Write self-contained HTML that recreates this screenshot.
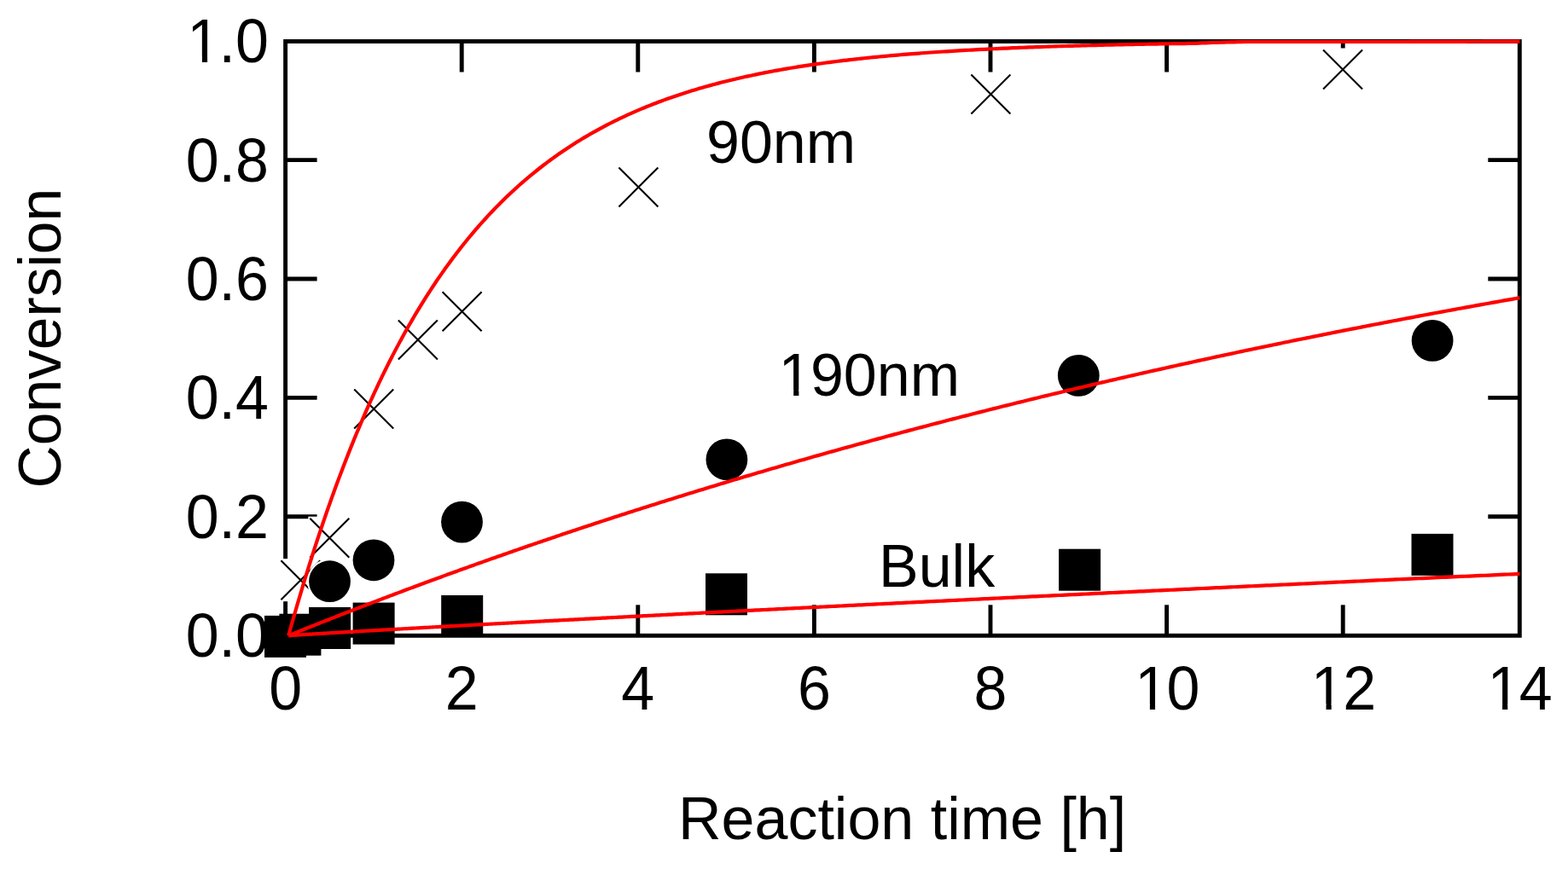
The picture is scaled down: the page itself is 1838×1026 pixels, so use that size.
<!DOCTYPE html>
<html><head><meta charset="utf-8"><title>Conversion vs reaction time</title>
<style>
html,body{margin:0;padding:0;background:#fff;}
body{width:1838px;height:1026px;overflow:hidden;}
svg{display:block;}
</style></head><body>
<svg width="1838" height="1026" viewBox="0 0 1838 1026">
<rect width="1838" height="1026" fill="#fff"/>
<rect x="334.60" y="48.50" width="1446.70" height="696.80" fill="none" stroke="#000" stroke-width="4.9"/>
<g stroke="#000" stroke-width="4.9" fill="none">
<line x1="541.20" y1="745.30" x2="541.20" y2="709.30"/>
<line x1="541.20" y1="48.50" x2="541.20" y2="84.50"/>
<line x1="747.80" y1="745.30" x2="747.80" y2="709.30"/>
<line x1="747.80" y1="48.50" x2="747.80" y2="84.50"/>
<line x1="954.40" y1="745.30" x2="954.40" y2="709.30"/>
<line x1="954.40" y1="48.50" x2="954.40" y2="84.50"/>
<line x1="1161.00" y1="745.30" x2="1161.00" y2="709.30"/>
<line x1="1161.00" y1="48.50" x2="1161.00" y2="84.50"/>
<line x1="1367.60" y1="745.30" x2="1367.60" y2="709.30"/>
<line x1="1367.60" y1="48.50" x2="1367.60" y2="84.50"/>
<line x1="1574.20" y1="745.30" x2="1574.20" y2="709.30"/>
<line x1="1574.20" y1="48.50" x2="1574.20" y2="84.50"/>
<line x1="334.60" y1="605.80" x2="371.60" y2="605.80"/>
<line x1="1781.30" y1="605.80" x2="1744.30" y2="605.80"/>
<line x1="334.60" y1="466.40" x2="371.60" y2="466.40"/>
<line x1="1781.30" y1="466.40" x2="1744.30" y2="466.40"/>
<line x1="334.60" y1="327.00" x2="371.60" y2="327.00"/>
<line x1="1781.30" y1="327.00" x2="1744.30" y2="327.00"/>
<line x1="334.60" y1="187.60" x2="371.60" y2="187.60"/>
<line x1="1781.30" y1="187.60" x2="1744.30" y2="187.60"/>
</g>
<g fill="#fff">
<rect x="327.40" y="655.20" width="50.00" height="50.00"/>
<rect x="361.30" y="605.70" width="50.00" height="50.00"/>
<rect x="413.20" y="454.50" width="50.00" height="50.00"/>
<rect x="464.90" y="373.40" width="50.00" height="50.00"/>
<rect x="516.60" y="340.30" width="50.00" height="50.00"/>
<rect x="723.40" y="194.40" width="50.00" height="50.00"/>
<rect x="1136.40" y="85.60" width="50.00" height="50.00"/>
<rect x="1549.00" y="56.50" width="50.00" height="50.00"/>
</g>
<g stroke="#000" stroke-width="2.1" fill="none">
<path d="M329.40 657.20L375.40 703.20M329.40 703.20L375.40 657.20"/>
<path d="M363.30 607.70L409.30 653.70M363.30 653.70L409.30 607.70"/>
<path d="M415.20 456.50L461.20 502.50M415.20 502.50L461.20 456.50"/>
<path d="M466.90 375.40L512.90 421.40M466.90 421.40L512.90 375.40"/>
<path d="M518.60 342.30L564.60 388.30M518.60 388.30L564.60 342.30"/>
<path d="M725.40 196.40L771.40 242.40M725.40 242.40L771.40 196.40"/>
<path d="M1138.40 87.60L1184.40 133.60M1138.40 133.60L1184.40 87.60"/>
<path d="M1551.00 58.50L1597.00 104.50M1551.00 104.50L1597.00 58.50"/>
</g>
<g fill="#000" stroke="#fff" stroke-width="4" paint-order="stroke">
<circle cx="386.50" cy="681.70" r="24.40"/>
<circle cx="438.00" cy="656.80" r="24.40"/>
<circle cx="541.50" cy="612.10" r="24.40"/>
<circle cx="851.90" cy="538.80" r="24.40"/>
<circle cx="1264.30" cy="440.40" r="24.40"/>
<circle cx="1679.10" cy="399.40" r="24.40"/>
</g>
<g fill="#000">
<rect x="310.00" y="721.90" width="49.00" height="49.00"/>
<rect x="327.40" y="719.70" width="49.00" height="49.00"/>
<rect x="362.10" y="712.00" width="49.00" height="49.00"/>
<rect x="413.60" y="706.60" width="49.00" height="49.00"/>
<rect x="517.20" y="698.00" width="49.00" height="49.00"/>
<rect x="827.00" y="672.30" width="49.00" height="49.00"/>
<rect x="1241.10" y="643.70" width="49.00" height="49.00"/>
<rect x="1654.50" y="625.90" width="49.00" height="49.00"/>
</g>
<g stroke="#ff0000" stroke-width="4.2" fill="none" stroke-linejoin="round">
<path d="M338.13,745.30 L338.20,745.06 L338.34,744.56 L338.53,743.88 L338.77,743.05 L339.04,742.08 L339.35,740.98 L339.69,739.77 L340.06,738.45 L340.46,737.04 L340.89,735.52 L341.35,733.91 L341.83,732.22 L342.33,730.44 L342.86,728.58 L343.41,726.65 L343.99,724.64 L344.58,722.56 L345.20,720.41 L345.84,718.19 L346.50,715.91 L347.18,713.57 L347.88,711.16 L348.60,708.70 L349.33,706.18 L350.09,703.61 L350.86,700.98 L351.66,698.31 L352.47,695.58 L353.29,692.81 L354.14,689.98 L355.00,687.12 L355.88,684.21 L356.78,681.25 L357.69,678.26 L358.62,675.23 L359.56,672.16 L360.52,669.05 L361.50,665.91 L362.49,662.73 L363.50,659.52 L364.52,656.27 L365.56,653.00 L366.61,649.70 L367.68,646.36 L368.76,643.00 L369.86,639.62 L370.97,636.21 L372.09,632.77 L373.23,629.31 L374.38,625.83 L375.55,622.33 L376.73,618.80 L377.93,615.26 L379.13,611.70 L380.36,608.12 L381.59,604.52 L382.84,600.91 L384.10,597.29 L385.38,593.64 L386.66,589.99 L387.96,586.33 L389.28,582.65 L390.60,578.96 L391.94,575.26 L393.29,571.55 L394.66,567.84 L396.03,564.11 L397.42,560.38 L398.83,556.65 L400.24,552.90 L401.66,549.16 L403.10,545.41 L404.55,541.65 L406.01,537.90 L407.49,534.14 L408.97,530.38 L410.47,526.62 L411.98,522.85 L413.50,519.09 L415.03,515.33 L416.58,511.58 L418.13,507.82 L419.70,504.07 L421.28,500.32 L422.87,496.57 L424.47,492.83 L426.08,489.10 L427.70,485.36 L429.34,481.64 L430.98,477.92 L432.64,474.21 L434.30,470.51 L435.98,466.81 L437.67,463.12 L439.37,459.45 L441.08,455.78 L442.80,452.12 L444.53,448.47 L446.28,444.83 L448.03,441.20 L449.79,437.59 L451.57,433.98 L453.35,430.39 L455.15,426.81 L456.95,423.24 L458.77,419.69 L460.59,416.15 L462.43,412.62 L464.28,409.11 L466.13,405.61 L468.00,402.13 L469.88,398.66 L471.77,395.21 L473.66,391.77 L475.57,388.35 L477.49,384.95 L479.41,381.56 L481.35,378.19 L483.30,374.83 L485.25,371.50 L487.22,368.18 L489.20,364.87 L491.18,361.59 L493.18,358.32 L495.18,355.07 L497.20,351.84 L499.22,348.63 L501.26,345.44 L503.30,342.27 L505.36,339.11 L507.42,335.98 L509.49,332.86 L511.57,329.77 L513.66,326.69 L515.77,323.64 L517.88,320.60 L519.99,317.58 L522.12,314.59 L524.26,311.61 L526.41,308.66 L528.56,305.72 L530.73,302.81 L532.91,299.91 L535.09,297.04 L537.28,294.19 L539.48,291.36 L541.70,288.55 L543.92,285.76 L546.14,282.99 L548.38,280.24 L550.63,277.52 L552.89,274.81 L555.15,272.13 L557.43,269.47 L559.71,266.83 L562.00,264.21 L564.30,261.61 L566.61,259.04 L568.93,256.48 L571.25,253.95 L573.59,251.44 L575.93,248.94 L578.29,246.48 L580.65,244.03 L583.02,241.60 L585.40,239.19 L587.79,236.81 L590.18,234.45 L592.59,232.10 L595.00,229.78 L597.42,227.48 L599.85,225.21 L602.29,222.95 L604.74,220.71 L607.19,218.50 L609.66,216.30 L612.13,214.13 L614.61,211.98 L617.10,209.84 L619.60,207.73 L622.11,205.64 L624.62,203.57 L627.14,201.52 L629.67,199.49 L632.21,197.48 L634.76,195.49 L637.32,193.52 L639.88,191.57 L642.45,189.65 L645.03,187.74 L647.62,185.85 L650.22,183.98 L652.82,182.13 L655.44,180.30 L658.06,178.49 L660.69,176.69 L663.32,174.92 L665.97,173.17 L668.62,171.43 L671.28,169.72 L673.95,168.02 L676.63,166.34 L679.31,164.68 L682.01,163.04 L684.71,161.42 L687.42,159.82 L690.13,158.23 L692.86,156.66 L695.59,155.11 L698.33,153.58 L701.08,152.06 L703.84,150.57 L706.60,149.09 L709.37,147.62 L712.15,146.18 L714.94,144.75 L717.73,143.34 L720.54,141.94 L723.35,140.56 L726.17,139.20 L728.99,137.86 L731.83,136.53 L734.67,135.21 L737.52,133.92 L740.37,132.64 L743.24,131.37 L746.11,130.12 L748.99,128.89 L751.87,127.67 L754.77,126.47 L757.67,125.28 L760.58,124.10 L763.50,122.95 L766.42,121.80 L769.36,120.67 L772.29,119.56 L775.24,118.46 L778.20,117.37 L781.16,116.30 L784.13,115.24 L787.11,114.20 L790.09,113.17 L793.08,112.15 L796.08,111.15 L799.09,110.16 L802.10,109.18 L805.12,108.22 L808.15,107.27 L811.19,106.33 L814.23,105.40 L817.28,104.49 L820.34,103.59 L823.41,102.70 L826.48,101.83 L829.56,100.96 L832.65,100.11 L835.74,99.27 L838.84,98.44 L841.95,97.63 L845.07,96.82 L848.19,96.03 L851.32,95.24 L854.46,94.47 L857.60,93.71 L860.75,92.96 L863.91,92.22 L867.08,91.49 L870.25,90.77 L873.43,90.07 L876.62,89.37 L879.81,88.68 L883.02,88.00 L886.22,87.34 L889.44,86.68 L892.66,86.03 L895.89,85.39 L899.13,84.76 L902.37,84.14 L905.63,83.53 L908.88,82.93 L912.15,82.34 L915.42,81.75 L918.70,81.18 L921.98,80.61 L925.28,80.05 L928.58,79.50 L931.88,78.96 L935.20,78.43 L938.52,77.91 L941.85,77.39 L945.18,76.88 L948.52,76.38 L951.87,75.89 L955.22,75.40 L958.59,74.93 L961.95,74.46 L965.33,73.99 L968.71,73.54 L972.10,73.09 L975.50,72.65 L978.90,72.21 L982.31,71.79 L985.73,71.36 L989.15,70.95 L992.58,70.54 L996.01,70.14 L999.46,69.75 L1002.91,69.36 L1006.36,68.98 L1009.83,68.60 L1013.30,68.23 L1016.78,67.87 L1020.26,67.51 L1023.75,67.16 L1027.25,66.82 L1030.75,66.48 L1034.26,66.14 L1037.78,65.81 L1041.30,65.49 L1044.83,65.17 L1048.37,64.86 L1051.91,64.55 L1055.46,64.25 L1059.02,63.95 L1062.58,63.66 L1066.15,63.37 L1069.73,63.09 L1073.31,62.81 L1076.90,62.54 L1080.50,62.27 L1084.10,62.00 L1087.71,61.75 L1091.32,61.49 L1094.95,61.24 L1098.57,60.99 L1102.21,60.75 L1105.85,60.51 L1109.50,60.28 L1113.15,60.05 L1116.82,59.82 L1120.48,59.60 L1124.16,59.39 L1127.84,59.17 L1131.52,58.96 L1135.22,58.75 L1138.92,58.55 L1142.62,58.35 L1146.34,58.16 L1150.06,57.96 L1153.78,57.78 L1157.51,57.59 L1161.25,57.41 L1165.00,57.23 L1168.75,57.05 L1172.50,56.88 L1176.27,56.71 L1180.04,56.55 L1183.81,56.38 L1187.60,56.22 L1191.39,56.06 L1195.18,55.91 L1198.98,55.76 L1202.79,55.61 L1206.61,55.46 L1210.43,55.32 L1214.25,55.18 L1218.09,55.04 L1221.93,54.90 L1225.77,54.77 L1229.62,54.64 L1233.48,54.51 L1237.35,54.39 L1241.22,54.26 L1245.09,54.14 L1248.98,54.02 L1252.87,53.91 L1256.76,53.79 L1260.66,53.68 L1264.57,53.57 L1268.49,53.46 L1272.41,53.35 L1276.33,53.25 L1280.27,53.15 L1284.20,53.05 L1288.15,52.95 L1292.10,52.85 L1296.06,52.76 L1300.02,52.67 L1303.99,52.58 L1307.97,52.49 L1311.95,52.40 L1315.94,52.31 L1319.93,52.23 L1323.93,52.15 L1327.94,52.07 L1331.95,51.99 L1335.97,51.91 L1339.99,51.83 L1344.02,51.76 L1348.06,51.68 L1352.10,51.61 L1356.15,51.54 L1360.21,51.47 L1364.27,51.41 L1368.33,51.34 L1372.41,51.27 L1376.49,51.21 L1380.57,51.15 L1384.66,51.09 L1388.76,51.03 L1392.86,50.97 L1396.97,50.91 L1401.09,50.82 L1405.21,50.64 L1409.33,50.47 L1413.47,50.31 L1417.61,50.16 L1421.75,50.01 L1425.90,49.88 L1430.06,49.74 L1434.22,49.62 L1438.39,49.50 L1442.57,49.39 L1446.75,49.29 L1450.93,49.19 L1455.12,49.10 L1459.32,49.01 L1463.53,49.00 L1467.74,49.00 L1471.95,49.00 L1476.17,49.00 L1480.40,49.00 L1484.64,49.00 L1488.88,49.00 L1493.12,49.00 L1497.37,49.00 L1501.63,49.00 L1505.89,49.00 L1510.16,49.00 L1514.43,49.00 L1518.72,49.00 L1523.00,49.00 L1527.29,49.00 L1531.59,49.00 L1535.89,49.00 L1540.20,49.00 L1544.52,49.00 L1548.84,49.00 L1553.17,49.00 L1557.50,49.00 L1561.84,49.00 L1566.18,49.00 L1570.53,49.00 L1574.89,49.00 L1579.25,49.00 L1583.62,49.00 L1587.99,49.00 L1592.37,49.00 L1596.75,49.00 L1601.14,49.00 L1605.54,49.00 L1609.94,49.00 L1614.35,49.00 L1618.76,49.00 L1623.18,49.00 L1627.61,49.00 L1632.04,49.00 L1636.47,49.00 L1640.91,49.00 L1645.36,49.00 L1649.81,48.98 L1654.27,48.97 L1658.74,48.95 L1663.21,48.94 L1667.68,48.92 L1672.16,48.91 L1676.65,48.89 L1681.14,48.88 L1685.64,48.86 L1690.15,48.85 L1694.65,48.84 L1699.17,48.83 L1703.69,48.81 L1708.22,48.80 L1712.75,48.79 L1717.29,48.78 L1721.83,48.77 L1726.38,48.75 L1730.93,48.74 L1735.49,48.73 L1740.06,48.72 L1744.63,48.71 L1749.21,48.70 L1753.79,48.69 L1758.38,48.68 L1762.97,48.67 L1767.57,48.67 L1772.17,48.66 L1776.78,48.65 L1781.40,48.64"/>
<path d="M338.13,745.30 L338.20,745.27 L338.34,745.22 L338.53,745.14 L338.77,745.04 L339.04,744.93 L339.35,744.81 L339.69,744.67 L340.06,744.52 L340.46,744.36 L340.89,744.19 L341.35,744.00 L341.83,743.81 L342.33,743.61 L342.86,743.39 L343.41,743.17 L343.99,742.94 L344.58,742.70 L345.20,742.45 L345.84,742.19 L346.50,741.93 L347.18,741.65 L347.88,741.37 L348.60,741.08 L349.33,740.79 L350.09,740.48 L350.86,740.17 L351.66,739.85 L352.47,739.53 L353.29,739.20 L354.14,738.86 L355.00,738.51 L355.88,738.16 L356.78,737.80 L357.69,737.43 L358.62,737.06 L359.56,736.69 L360.52,736.30 L361.50,735.91 L362.49,735.52 L363.50,735.11 L364.52,734.71 L365.56,734.29 L366.61,733.87 L367.68,733.45 L368.76,733.02 L369.86,732.58 L370.97,732.14 L372.09,731.69 L373.23,731.24 L374.38,730.79 L375.55,730.32 L376.73,729.85 L377.93,729.38 L379.13,728.90 L380.36,728.42 L381.59,727.93 L382.84,727.44 L384.10,726.94 L385.38,726.44 L386.66,725.93 L387.96,725.42 L389.28,724.90 L390.60,724.38 L391.94,723.86 L393.29,723.33 L394.66,722.79 L396.03,722.25 L397.42,721.71 L398.83,721.16 L400.24,720.61 L401.66,720.05 L403.10,719.49 L404.55,718.93 L406.01,718.36 L407.49,717.78 L408.97,717.20 L410.47,716.62 L411.98,716.04 L413.50,715.45 L415.03,714.85 L416.58,714.26 L418.13,713.65 L419.70,713.05 L421.28,712.44 L422.87,711.83 L424.47,711.21 L426.08,710.59 L427.70,709.96 L429.34,709.33 L430.98,708.70 L432.64,708.07 L434.30,707.43 L435.98,706.79 L437.67,706.14 L439.37,705.49 L441.08,704.84 L442.80,704.18 L444.53,703.52 L446.28,702.86 L448.03,702.19 L449.79,701.52 L451.57,700.85 L453.35,700.17 L455.15,699.49 L456.95,698.81 L458.77,698.12 L460.59,697.43 L462.43,696.74 L464.28,696.04 L466.13,695.34 L468.00,694.64 L469.88,693.94 L471.77,693.23 L473.66,692.52 L475.57,691.80 L477.49,691.09 L479.41,690.37 L481.35,689.64 L483.30,688.92 L485.25,688.19 L487.22,687.46 L489.20,686.72 L491.18,685.99 L493.18,685.25 L495.18,684.50 L497.20,683.76 L499.22,683.01 L501.26,682.26 L503.30,681.51 L505.36,680.75 L507.42,679.99 L509.49,679.23 L511.57,678.47 L513.66,677.70 L515.77,676.94 L517.88,676.16 L519.99,675.39 L522.12,674.62 L524.26,673.84 L526.41,673.06 L528.56,672.27 L530.73,671.49 L532.91,670.70 L535.09,669.91 L537.28,669.12 L539.48,668.32 L541.70,667.53 L543.92,666.73 L546.14,665.93 L548.38,665.12 L550.63,664.32 L552.89,663.51 L555.15,662.70 L557.43,661.89 L559.71,661.07 L562.00,660.26 L564.30,659.44 L566.61,658.62 L568.93,657.80 L571.25,656.97 L573.59,656.14 L575.93,655.32 L578.29,654.49 L580.65,653.65 L583.02,652.82 L585.40,651.98 L587.79,651.15 L590.18,650.31 L592.59,649.46 L595.00,648.62 L597.42,647.78 L599.85,646.93 L602.29,646.08 L604.74,645.23 L607.19,644.38 L609.66,643.52 L612.13,642.67 L614.61,641.81 L617.10,640.95 L619.60,640.09 L622.11,639.23 L624.62,638.36 L627.14,637.50 L629.67,636.63 L632.21,635.76 L634.76,634.89 L637.32,634.02 L639.88,633.15 L642.45,632.27 L645.03,631.40 L647.62,630.52 L650.22,629.64 L652.82,628.76 L655.44,627.88 L658.06,627.00 L660.69,626.11 L663.32,625.23 L665.97,624.34 L668.62,623.45 L671.28,622.56 L673.95,621.67 L676.63,620.78 L679.31,619.88 L682.01,618.99 L684.71,618.09 L687.42,617.20 L690.13,616.30 L692.86,615.40 L695.59,614.50 L698.33,613.59 L701.08,612.69 L703.84,611.79 L706.60,610.88 L709.37,609.97 L712.15,609.07 L714.94,608.16 L717.73,607.25 L720.54,606.34 L723.35,605.42 L726.17,604.51 L728.99,603.60 L731.83,602.68 L734.67,601.77 L737.52,600.85 L740.37,599.93 L743.24,599.01 L746.11,598.09 L748.99,597.17 L751.87,596.25 L754.77,595.33 L757.67,594.41 L760.58,593.48 L763.50,592.56 L766.42,591.63 L769.36,590.71 L772.29,589.78 L775.24,588.85 L778.20,587.92 L781.16,586.99 L784.13,586.06 L787.11,585.13 L790.09,584.20 L793.08,583.27 L796.08,582.34 L799.09,581.40 L802.10,580.47 L805.12,579.53 L808.15,578.60 L811.19,577.66 L814.23,576.72 L817.28,575.79 L820.34,574.85 L823.41,573.91 L826.48,572.97 L829.56,572.03 L832.65,571.09 L835.74,570.15 L838.84,569.21 L841.95,568.27 L845.07,567.33 L848.19,566.38 L851.32,565.44 L854.46,564.50 L857.60,563.55 L860.75,562.61 L863.91,561.66 L867.08,560.72 L870.25,559.77 L873.43,558.83 L876.62,557.88 L879.81,556.93 L883.02,555.99 L886.22,555.04 L889.44,554.09 L892.66,553.14 L895.89,552.20 L899.13,551.25 L902.37,550.30 L905.63,549.35 L908.88,548.40 L912.15,547.45 L915.42,546.50 L918.70,545.55 L921.98,544.60 L925.28,543.65 L928.58,542.70 L931.88,541.75 L935.20,540.80 L938.52,539.85 L941.85,538.90 L945.18,537.95 L948.52,536.99 L951.87,536.04 L955.22,535.09 L958.59,534.14 L961.95,533.19 L965.33,532.24 L968.71,531.28 L972.10,530.33 L975.50,529.38 L978.90,528.43 L982.31,527.48 L985.73,526.52 L989.15,525.57 L992.58,524.62 L996.01,523.67 L999.46,522.72 L1002.91,521.77 L1006.36,520.81 L1009.83,519.86 L1013.30,518.91 L1016.78,517.96 L1020.26,517.01 L1023.75,516.06 L1027.25,515.10 L1030.75,514.15 L1034.26,513.20 L1037.78,512.25 L1041.30,511.30 L1044.83,510.35 L1048.37,509.40 L1051.91,508.45 L1055.46,507.50 L1059.02,506.55 L1062.58,505.60 L1066.15,504.65 L1069.73,503.70 L1073.31,502.75 L1076.90,501.80 L1080.50,500.86 L1084.10,499.91 L1087.71,498.96 L1091.32,498.01 L1094.95,497.06 L1098.57,496.12 L1102.21,495.17 L1105.85,494.22 L1109.50,493.28 L1113.15,492.33 L1116.82,491.39 L1120.48,490.44 L1124.16,489.50 L1127.84,488.55 L1131.52,487.61 L1135.22,486.67 L1138.92,485.72 L1142.62,484.78 L1146.34,483.84 L1150.06,482.89 L1153.78,481.95 L1157.51,481.01 L1161.25,480.07 L1165.00,479.13 L1168.75,478.19 L1172.50,477.25 L1176.27,476.31 L1180.04,475.37 L1183.81,474.44 L1187.60,473.50 L1191.39,472.56 L1195.18,471.62 L1198.98,470.69 L1202.79,469.75 L1206.61,468.82 L1210.43,467.88 L1214.25,466.95 L1218.09,466.02 L1221.93,465.08 L1225.77,464.15 L1229.62,463.22 L1233.48,462.29 L1237.35,461.36 L1241.22,460.43 L1245.09,459.50 L1248.98,458.57 L1252.87,457.64 L1256.76,456.72 L1260.66,455.79 L1264.57,454.86 L1268.49,453.94 L1272.41,453.01 L1276.33,452.09 L1280.27,451.16 L1284.20,450.24 L1288.15,449.32 L1292.10,448.40 L1296.06,447.48 L1300.02,446.56 L1303.99,445.64 L1307.97,444.72 L1311.95,443.80 L1315.94,442.88 L1319.93,441.97 L1323.93,441.05 L1327.94,440.13 L1331.95,439.22 L1335.97,438.31 L1339.99,437.39 L1344.02,436.48 L1348.06,435.57 L1352.10,434.66 L1356.15,433.75 L1360.21,432.84 L1364.27,431.93 L1368.33,431.03 L1372.41,430.12 L1376.49,429.21 L1380.57,428.31 L1384.66,427.40 L1388.76,426.50 L1392.86,425.60 L1396.97,424.70 L1401.09,423.80 L1405.21,422.90 L1409.33,422.00 L1413.47,421.10 L1417.61,420.20 L1421.75,419.30 L1425.90,418.41 L1430.06,417.51 L1434.22,416.62 L1438.39,415.73 L1442.57,414.83 L1446.75,413.94 L1450.93,413.05 L1455.12,412.16 L1459.32,411.27 L1463.53,410.39 L1467.74,409.50 L1471.95,408.61 L1476.17,407.73 L1480.40,406.85 L1484.64,405.96 L1488.88,405.08 L1493.12,404.20 L1497.37,403.32 L1501.63,402.44 L1505.89,401.56 L1510.16,400.69 L1514.43,399.81 L1518.72,398.93 L1523.00,398.06 L1527.29,397.19 L1531.59,396.32 L1535.89,395.44 L1540.20,394.57 L1544.52,393.70 L1548.84,392.84 L1553.17,391.97 L1557.50,391.10 L1561.84,390.24 L1566.18,389.37 L1570.53,388.51 L1574.89,387.65 L1579.25,386.79 L1583.62,385.93 L1587.99,385.07 L1592.37,384.21 L1596.75,383.36 L1601.14,382.50 L1605.54,381.65 L1609.94,380.79 L1614.35,379.94 L1618.76,379.09 L1623.18,378.24 L1627.61,377.39 L1632.04,376.54 L1636.47,375.69 L1640.91,374.85 L1645.36,374.00 L1649.81,373.16 L1654.27,372.32 L1658.74,371.48 L1663.21,370.64 L1667.68,369.80 L1672.16,368.96 L1676.65,368.12 L1681.14,367.29 L1685.64,366.45 L1690.15,365.62 L1694.65,364.79 L1699.17,363.95 L1703.69,363.12 L1708.22,362.30 L1712.75,361.47 L1717.29,360.64 L1721.83,359.82 L1726.38,358.99 L1730.93,358.17 L1735.49,357.35 L1740.06,356.53 L1744.63,355.71 L1749.21,354.89 L1753.79,354.07 L1758.38,353.25 L1762.97,352.44 L1767.57,351.63 L1772.17,350.81 L1776.78,350.00 L1781.40,349.19"/>
<path d="M338.13,745.30 L338.20,745.29 L338.34,745.28 L338.53,745.27 L338.77,745.25 L339.04,745.23 L339.35,745.21 L339.69,745.18 L340.06,745.16 L340.46,745.13 L340.89,745.10 L341.35,745.07 L341.83,745.04 L342.33,745.00 L342.86,744.97 L343.41,744.93 L343.99,744.89 L344.58,744.85 L345.20,744.81 L345.84,744.77 L346.50,744.73 L347.18,744.68 L347.88,744.64 L348.60,744.59 L349.33,744.54 L350.09,744.50 L350.86,744.45 L351.66,744.40 L352.47,744.34 L353.29,744.29 L354.14,744.24 L355.00,744.18 L355.88,744.13 L356.78,744.07 L357.69,744.02 L358.62,743.96 L359.56,743.90 L360.52,743.84 L361.50,743.78 L362.49,743.72 L363.50,743.66 L364.52,743.59 L365.56,743.53 L366.61,743.47 L367.68,743.40 L368.76,743.34 L369.86,743.27 L370.97,743.20 L372.09,743.13 L373.23,743.06 L374.38,742.99 L375.55,742.92 L376.73,742.85 L377.93,742.78 L379.13,742.71 L380.36,742.64 L381.59,742.56 L382.84,742.49 L384.10,742.41 L385.38,742.34 L386.66,742.26 L387.96,742.18 L389.28,742.10 L390.60,742.03 L391.94,741.95 L393.29,741.87 L394.66,741.79 L396.03,741.71 L397.42,741.62 L398.83,741.54 L400.24,741.46 L401.66,741.38 L403.10,741.29 L404.55,741.21 L406.01,741.12 L407.49,741.04 L408.97,740.95 L410.47,740.86 L411.98,740.77 L413.50,740.69 L415.03,740.60 L416.58,740.51 L418.13,740.42 L419.70,740.33 L421.28,740.24 L422.87,740.15 L424.47,740.05 L426.08,739.96 L427.70,739.87 L429.34,739.77 L430.98,739.68 L432.64,739.58 L434.30,739.49 L435.98,739.39 L437.67,739.30 L439.37,739.20 L441.08,739.10 L442.80,739.00 L444.53,738.91 L446.28,738.81 L448.03,738.71 L449.79,738.61 L451.57,738.51 L453.35,738.41 L455.15,738.30 L456.95,738.20 L458.77,738.10 L460.59,738.00 L462.43,737.89 L464.28,737.79 L466.13,737.69 L468.00,737.58 L469.88,737.48 L471.77,737.37 L473.66,737.26 L475.57,737.16 L477.49,737.05 L479.41,736.94 L481.35,736.83 L483.30,736.72 L485.25,736.62 L487.22,736.51 L489.20,736.40 L491.18,736.29 L493.18,736.17 L495.18,736.06 L497.20,735.95 L499.22,735.84 L501.26,735.73 L503.30,735.61 L505.36,735.50 L507.42,735.39 L509.49,735.27 L511.57,735.16 L513.66,735.04 L515.77,734.93 L517.88,734.81 L519.99,734.69 L522.12,734.58 L524.26,734.46 L526.41,734.34 L528.56,734.22 L530.73,734.10 L532.91,733.98 L535.09,733.87 L537.28,733.75 L539.48,733.63 L541.70,733.50 L543.92,733.38 L546.14,733.26 L548.38,733.14 L550.63,733.02 L552.89,732.89 L555.15,732.77 L557.43,732.65 L559.71,732.52 L562.00,732.40 L564.30,732.28 L566.61,732.15 L568.93,732.02 L571.25,731.90 L573.59,731.77 L575.93,731.65 L578.29,731.52 L580.65,731.39 L583.02,731.26 L585.40,731.14 L587.79,731.01 L590.18,730.88 L592.59,730.75 L595.00,730.62 L597.42,730.49 L599.85,730.36 L602.29,730.23 L604.74,730.10 L607.19,729.96 L609.66,729.83 L612.13,729.70 L614.61,729.57 L617.10,729.43 L619.60,729.30 L622.11,729.17 L624.62,729.03 L627.14,728.90 L629.67,728.76 L632.21,728.63 L634.76,728.49 L637.32,728.36 L639.88,728.22 L642.45,728.09 L645.03,727.95 L647.62,727.81 L650.22,727.67 L652.82,727.54 L655.44,727.40 L658.06,727.26 L660.69,727.12 L663.32,726.98 L665.97,726.84 L668.62,726.70 L671.28,726.56 L673.95,726.42 L676.63,726.28 L679.31,726.14 L682.01,726.00 L684.71,725.85 L687.42,725.71 L690.13,725.57 L692.86,725.43 L695.59,725.28 L698.33,725.14 L701.08,724.99 L703.84,724.85 L706.60,724.71 L709.37,724.56 L712.15,724.42 L714.94,724.27 L717.73,724.12 L720.54,723.98 L723.35,723.83 L726.17,723.68 L728.99,723.54 L731.83,723.39 L734.67,723.24 L737.52,723.09 L740.37,722.95 L743.24,722.80 L746.11,722.65 L748.99,722.50 L751.87,722.35 L754.77,722.20 L757.67,722.05 L760.58,721.90 L763.50,721.75 L766.42,721.60 L769.36,721.44 L772.29,721.29 L775.24,721.14 L778.20,720.99 L781.16,720.84 L784.13,720.68 L787.11,720.53 L790.09,720.38 L793.08,720.22 L796.08,720.07 L799.09,719.91 L802.10,719.76 L805.12,719.60 L808.15,719.45 L811.19,719.29 L814.23,719.14 L817.28,718.98 L820.34,718.82 L823.41,718.67 L826.48,718.51 L829.56,718.35 L832.65,718.20 L835.74,718.04 L838.84,717.88 L841.95,717.72 L845.07,717.56 L848.19,717.40 L851.32,717.24 L854.46,717.08 L857.60,716.92 L860.75,716.76 L863.91,716.60 L867.08,716.44 L870.25,716.28 L873.43,716.12 L876.62,715.96 L879.81,715.80 L883.02,715.64 L886.22,715.47 L889.44,715.31 L892.66,715.15 L895.89,714.98 L899.13,714.82 L902.37,714.66 L905.63,714.49 L908.88,714.33 L912.15,714.16 L915.42,714.00 L918.70,713.83 L921.98,713.67 L925.28,713.50 L928.58,713.34 L931.88,713.17 L935.20,713.01 L938.52,712.84 L941.85,712.67 L945.18,712.51 L948.52,712.34 L951.87,712.17 L955.22,712.00 L958.59,711.83 L961.95,711.67 L965.33,711.50 L968.71,711.33 L972.10,711.16 L975.50,710.99 L978.90,710.82 L982.31,710.65 L985.73,710.48 L989.15,710.31 L992.58,710.14 L996.01,709.97 L999.46,709.80 L1002.91,709.63 L1006.36,709.45 L1009.83,709.28 L1013.30,709.11 L1016.78,708.94 L1020.26,708.77 L1023.75,708.59 L1027.25,708.42 L1030.75,708.25 L1034.26,708.07 L1037.78,707.90 L1041.30,707.73 L1044.83,707.55 L1048.37,707.38 L1051.91,707.20 L1055.46,707.03 L1059.02,706.85 L1062.58,706.68 L1066.15,706.50 L1069.73,706.33 L1073.31,706.15 L1076.90,705.97 L1080.50,705.80 L1084.10,705.62 L1087.71,705.44 L1091.32,705.26 L1094.95,705.09 L1098.57,704.91 L1102.21,704.73 L1105.85,704.55 L1109.50,704.37 L1113.15,704.20 L1116.82,704.02 L1120.48,703.84 L1124.16,703.66 L1127.84,703.48 L1131.52,703.30 L1135.22,703.12 L1138.92,702.94 L1142.62,702.76 L1146.34,702.58 L1150.06,702.40 L1153.78,702.22 L1157.51,702.04 L1161.25,701.85 L1165.00,701.67 L1168.75,701.49 L1172.50,701.31 L1176.27,701.13 L1180.04,700.94 L1183.81,700.76 L1187.60,700.58 L1191.39,700.39 L1195.18,700.21 L1198.98,700.03 L1202.79,699.84 L1206.61,699.66 L1210.43,699.47 L1214.25,699.29 L1218.09,699.10 L1221.93,698.92 L1225.77,698.73 L1229.62,698.55 L1233.48,698.36 L1237.35,698.18 L1241.22,697.99 L1245.09,697.81 L1248.98,697.62 L1252.87,697.43 L1256.76,697.25 L1260.66,697.06 L1264.57,696.87 L1268.49,696.68 L1272.41,696.50 L1276.33,696.31 L1280.27,696.12 L1284.20,695.93 L1288.15,695.74 L1292.10,695.56 L1296.06,695.37 L1300.02,695.18 L1303.99,694.99 L1307.97,694.80 L1311.95,694.61 L1315.94,694.42 L1319.93,694.23 L1323.93,694.04 L1327.94,693.85 L1331.95,693.66 L1335.97,693.47 L1339.99,693.28 L1344.02,693.09 L1348.06,692.89 L1352.10,692.70 L1356.15,692.51 L1360.21,692.32 L1364.27,692.13 L1368.33,691.93 L1372.41,691.74 L1376.49,691.55 L1380.57,691.36 L1384.66,691.16 L1388.76,690.97 L1392.86,690.78 L1396.97,690.58 L1401.09,690.39 L1405.21,690.20 L1409.33,690.00 L1413.47,689.81 L1417.61,689.61 L1421.75,689.42 L1425.90,689.22 L1430.06,689.03 L1434.22,688.83 L1438.39,688.64 L1442.57,688.44 L1446.75,688.24 L1450.93,688.05 L1455.12,687.85 L1459.32,687.66 L1463.53,687.46 L1467.74,687.26 L1471.95,687.07 L1476.17,686.87 L1480.40,686.67 L1484.64,686.47 L1488.88,686.28 L1493.12,686.08 L1497.37,685.88 L1501.63,685.68 L1505.89,685.48 L1510.16,685.29 L1514.43,685.09 L1518.72,684.89 L1523.00,684.69 L1527.29,684.49 L1531.59,684.29 L1535.89,684.09 L1540.20,683.89 L1544.52,683.69 L1548.84,683.49 L1553.17,683.29 L1557.50,683.09 L1561.84,682.89 L1566.18,682.69 L1570.53,682.49 L1574.89,682.29 L1579.25,682.09 L1583.62,681.89 L1587.99,681.68 L1592.37,681.48 L1596.75,681.28 L1601.14,681.08 L1605.54,680.88 L1609.94,680.67 L1614.35,680.47 L1618.76,680.27 L1623.18,680.07 L1627.61,679.86 L1632.04,679.66 L1636.47,679.46 L1640.91,679.25 L1645.36,679.05 L1649.81,678.84 L1654.27,678.64 L1658.74,678.44 L1663.21,678.23 L1667.68,678.03 L1672.16,677.82 L1676.65,677.62 L1681.14,677.41 L1685.64,677.21 L1690.15,677.00 L1694.65,676.80 L1699.17,676.59 L1703.69,676.39 L1708.22,676.18 L1712.75,675.97 L1717.29,675.77 L1721.83,675.56 L1726.38,675.36 L1730.93,675.15 L1735.49,674.94 L1740.06,674.74 L1744.63,674.53 L1749.21,674.32 L1753.79,674.11 L1758.38,673.91 L1762.97,673.70 L1767.57,673.49 L1772.17,673.28 L1776.78,673.07 L1781.40,672.87"/>
</g>
<g font-family='"Liberation Sans", Arial, sans-serif' font-size="70" fill="#000">
<text x="334.60" y="832.00" text-anchor="middle" transform="matrix(1 0 0 1.035 0 -29.120)">0</text>
<text x="541.20" y="832.00" text-anchor="middle" transform="matrix(1 0 0 1.035 0 -29.120)">2</text>
<text x="747.80" y="832.00" text-anchor="middle" transform="matrix(1 0 0 1.035 0 -29.120)">4</text>
<text x="954.40" y="832.00" text-anchor="middle" transform="matrix(1 0 0 1.035 0 -29.120)">6</text>
<text x="1161.00" y="832.00" text-anchor="middle" transform="matrix(1 0 0 1.035 0 -29.120)">8</text>
<text x="1330.27 1367.60" y="832.00" transform="matrix(1 0 0 1.035 0 -29.120)">10</text>
<text x="1536.87 1574.20" y="832.00" transform="matrix(1 0 0 1.035 0 -29.120)">12</text>
<text x="1743.47 1780.80" y="832.00" transform="matrix(1 0 0 1.035 0 -29.120)">14</text>
<text x="315.00" y="770.20" text-anchor="end" transform="matrix(1 0 0 1.035 0 -26.957)">0.0</text>
<text x="315.00" y="630.80" text-anchor="end" transform="matrix(1 0 0 1.035 0 -22.078)">0.2</text>
<text x="315.00" y="491.40" text-anchor="end" transform="matrix(1 0 0 1.035 0 -17.199)">0.4</text>
<text x="315.00" y="352.00" text-anchor="end" transform="matrix(1 0 0 1.035 0 -12.320)">0.6</text>
<text x="315.00" y="212.60" text-anchor="end" transform="matrix(1 0 0 1.035 0 -7.441)">0.8</text>
<text x="219.29 256.62 276.07" y="73.20" transform="matrix(1 0 0 1.035 0 -2.562)">1.0</text>
<text x="828.00" y="190.70">90nm</text>
<text x="912.60 949.93 988.86 1027.79 1066.72" y="463.70">190nm</text>
<text x="1030.00" y="688.30">Bulk</text>
<text x="795.00" y="983.80">Reaction time [h]</text>
<text transform="translate(71.2 572.4) rotate(-90)" font-size="69.5">Conversion</text>
</g>
<g fill="#fff">
<rect x="1334.60" y="825.27" width="13.27" height="7.73"/>
<rect x="1354.06" y="825.27" width="12.72" height="7.73"/>
<rect x="1541.20" y="825.27" width="13.27" height="7.73"/>
<rect x="1560.66" y="825.27" width="12.72" height="7.73"/>
<rect x="1747.80" y="825.27" width="13.27" height="7.73"/>
<rect x="1767.26" y="825.27" width="12.72" height="7.73"/>
<rect x="223.62" y="66.47" width="13.27" height="7.73"/>
<rect x="243.08" y="66.47" width="12.72" height="7.73"/>
<rect x="916.93" y="456.97" width="13.27" height="7.73"/>
<rect x="936.39" y="456.97" width="12.72" height="7.73"/>
</g>
</svg>
</body></html>
